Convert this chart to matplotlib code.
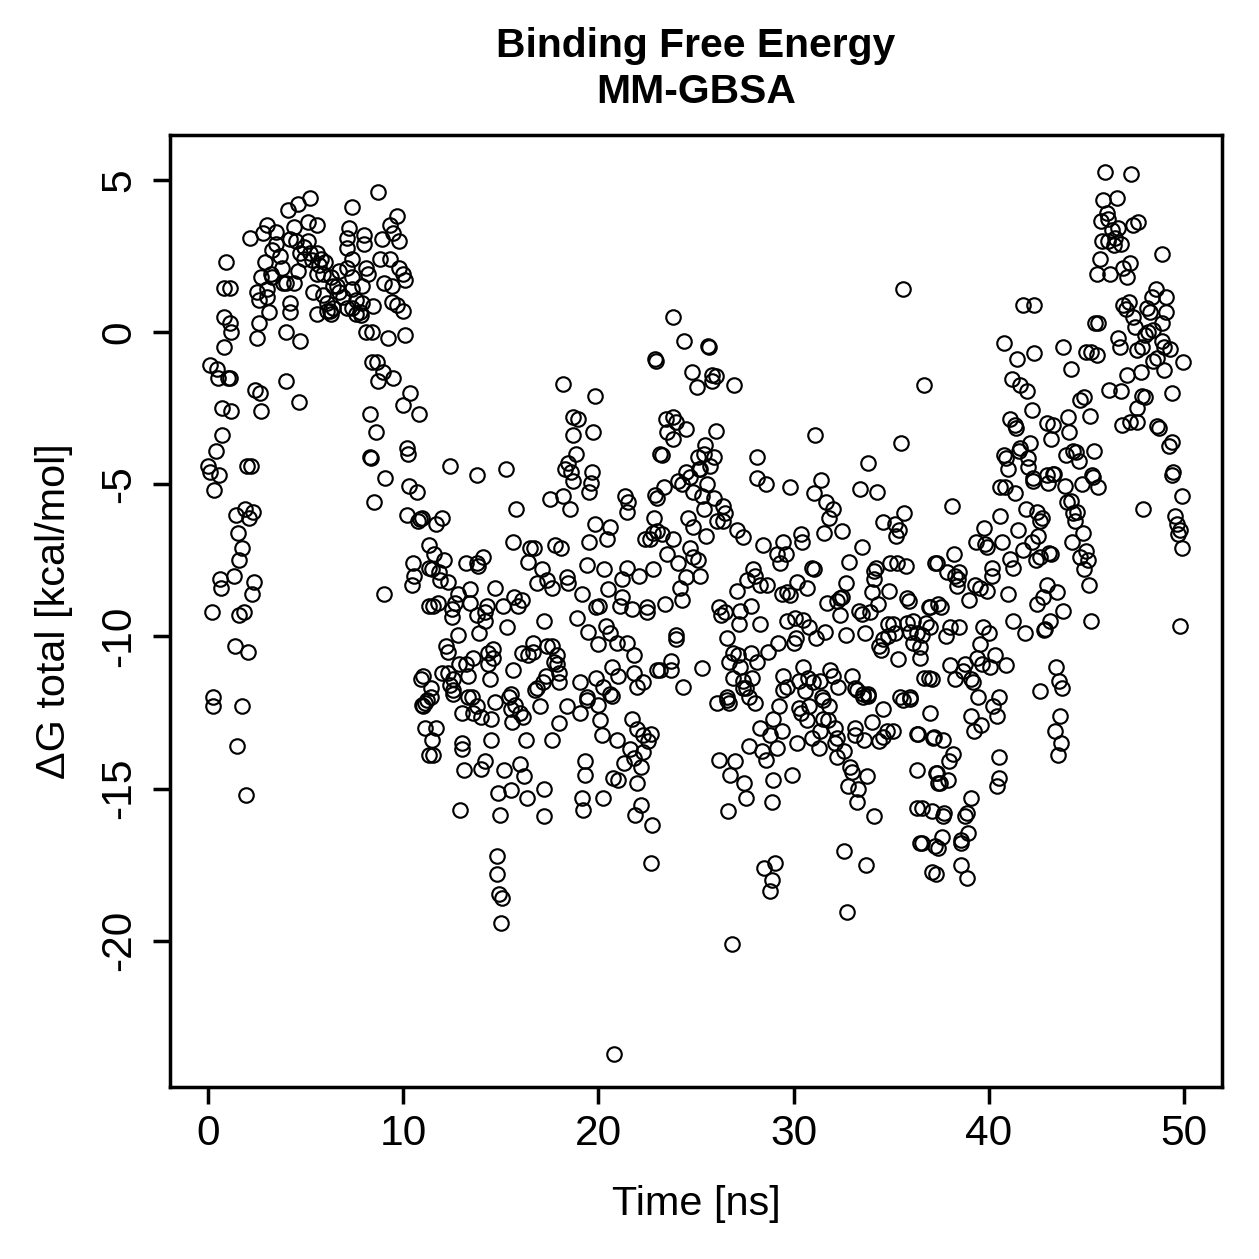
import numpy as np
import matplotlib
matplotlib.use("Agg")
import matplotlib.pyplot as plt

plt.rcParams["font.family"] = ["Liberation Sans", "DejaVu Sans"]

# (time [ns], dG total [kcal/mol]), grouped by time range
frames_0_10 = [
    (8.7,4.6),(5.2,4.4),(4.6,4.2),(4.1,4.0),(7.4,4.1),(9.7,3.8),(3.0,3.5),(5.1,3.6),(5.6,3.5),(4.4,3.45),
    (2.15,3.1),(2.8,3.25),(3.5,3.3),(7.2,3.4),(9.3,3.5),(7.1,3.1),(8.0,3.2),(8.0,2.9),(8.9,3.05),(9.8,3.0),
    (9.5,3.25),(4.2,3.05),(4.5,3.0),(5.1,3.0),(3.5,2.9),(7.1,2.75),(3.3,2.7),(4.9,2.8),(4.7,2.6),(5.2,2.6),
    (5.6,2.6),(7.4,2.4),(3.7,2.5),(0.9,2.3),(2.9,2.3),(4.9,2.4),(5.8,2.4),(8.8,2.4),(9.3,2.4),(7.1,2.1),
    (8.1,2.1),(9.8,2.1),(3.8,2.1),(6.7,2.0),(10.0,1.9),(2.7,1.8),(3.3,1.8),(4.0,1.6),(4.4,1.6),(5.6,1.9),
    (5.9,1.9),(7.4,1.8),(8.2,1.9),(9.0,1.6),(10.1,1.7),(9.4,1.5),(0.8,1.45),(1.1,1.45),(2.5,1.3),(3.0,1.4),
    (3.85,1.6),(6.6,1.5),(7.9,1.5),(6.7,1.3),(7.4,1.4),(2.6,1.05),(3.0,1.15),(5.4,1.3),(5.9,1.2),(6.1,0.95),
    (6.25,0.7),(6.4,0.8),(7.1,0.8),(7.4,0.8),(7.8,0.65),(7.9,0.95),(8.45,0.85),(9.4,1.0),(9.7,0.9),(10.0,0.7),
    (3.1,0.65),(4.2,0.95),(4.2,0.65),(5.6,0.6),(2.6,0.3),(0.8,0.5),(1.1,0.3),(1.2,0.0),(2.5,-0.2),(4.0,0.0),
    (4.7,-0.3),(8.1,0.0),(8.4,0.0),(9.2,-0.2),(10.1,-0.1),(0.8,-0.5),(0.1,-1.1),(0.45,-1.2),(0.5,-1.5),(1.0,-1.5),
    (1.1,-1.5),(8.4,-1.0),(8.65,-1.0),(8.95,-1.3),(9.5,-1.5),(8.7,-1.6),(4.0,-1.6),(2.4,-1.9),(2.65,-2.0),(4.65,-2.3),
    (10.0,-2.4),(10.35,-2.0),(10.8,-2.7),(8.3,-2.7),(2.7,-2.6),(0.7,-2.5),(1.2,-2.6),(8.6,-3.3),(0.7,-3.4),(0.4,-3.9),
    (8.3,-4.1),(10.2,-3.8),(10.25,-4.0),(6.1,0.7),(6.3,0.6),(7.6,0.6),(7.85,0.55),(6.9,1.15),(7.6,1.05),(6.4,1.5),
    (5.7,2.2),(6.0,2.3),(5.35,2.35),(6.3,1.8),(3.2,1.9),(4.6,2.0),
    (0.0,-4.4),(0.1,-4.6),(0.55,-4.7),(0.3,-5.2),(2.0,-4.4),(2.2,-4.4),(1.9,-5.8),(1.45,-6.0),(2.3,-5.9),(2.1,-6.1),
    (1.55,-6.6),(1.75,-7.1),(1.6,-7.5),(0.6,-8.1),(0.65,-8.4),(1.35,-8.0),(2.35,-8.2),(2.25,-8.6),(0.2,-9.2),(1.6,-9.3),
    (1.85,-9.2),(1.4,-10.3),(2.05,-10.5),(0.25,-12.0),(0.25,-12.3),(1.75,-12.3),(1.5,-13.6),(1.95,-15.2),
    (8.35,-4.15),(9.05,-4.8),(8.5,-5.6),(10.3,-5.05),(10.7,-5.25),(10.2,-6.0),(10.85,-6.15),(10.75,-6.2),
    (9.0,-8.6),
]

frames_10_23 = [
    (11.3,-7.0),(10.5,-7.6),(10.55,-8.0),(10.45,-8.3),(11.3,-7.75),(11.3,-9.0),(11.0,-11.3),(11.1,-12.2),
    (11.0,-12.3),(11.1,-13.0),(11.3,-13.9),
    (22.9,-0.9),(18.2,-1.7),(19.8,-2.1),(18.7,-2.8),(18.95,-2.85),(18.7,-3.4),(19.7,-3.3),(18.85,-4.0),(18.45,-4.3),
    (18.3,-4.5),(18.6,-4.6),(18.7,-4.9),(19.65,-4.6),(19.6,-4.95),(19.5,-5.25),(17.5,-5.5),(18.2,-5.4),(18.55,-5.8),
    (21.35,-5.4),(21.5,-5.6),(21.45,-5.9),(22.9,-5.35),(22.85,-6.1),(12.4,-4.4),(13.8,-4.7),(15.25,-4.5),(15.8,-5.8),
    (10.95,-6.1),(11.7,-6.3),(12.0,-6.1),(19.8,-6.3),(20.6,-6.4),(20.45,-6.8),(19.5,-6.9),(22.4,-6.8),(22.65,-6.8),
    (22.8,-6.6),(15.6,-6.9),(16.5,-7.1),(16.7,-7.1),(17.8,-7.0),(18.1,-7.1),(11.6,-7.3),(12.1,-7.5),(13.2,-7.6),
    (13.8,-7.6),(14.1,-7.4),(13.85,-7.7),(16.4,-7.55),(17.1,-7.8),(19.4,-7.65),(20.3,-7.8),(21.45,-7.75),(21.2,-8.1),
    (22.1,-8.0),(22.8,-7.8),(11.45,-7.8),(11.85,-7.9),(11.9,-8.15),(12.3,-8.2),(14.7,-8.4),(16.85,-8.25),(17.35,-8.15),
    (17.6,-8.4),(18.4,-8.05),(18.45,-8.25),(19.15,-8.6),(20.5,-8.45),(21.2,-8.7),(21.1,-9.0),(21.7,-9.1),(22.5,-9.05),
    (22.5,-9.2),(12.8,-8.6),(13.4,-8.45),(11.5,-9.0),(11.8,-8.9),(12.5,-9.1),(12.5,-9.35),(12.65,-8.9),(13.4,-8.9),
    (14.3,-9.0),(14.2,-9.2),(13.8,-9.3),(14.2,-9.5),(15.1,-9.0),(15.7,-8.7),(16.1,-8.8),(15.9,-9.0),(15.3,-9.7),
    (17.2,-9.5),(18.9,-9.4),(19.45,-9.85),(19.9,-9.05),(20.05,-9.0),(20.4,-9.65),(20.6,-9.9),(20.0,-10.25),(20.95,-10.2),
    (21.45,-10.2),(21.8,-10.6),(23.0,-11.1),(12.8,-9.95),(13.9,-9.9),(12.2,-10.3),(12.3,-10.5),(13.6,-10.7),(14.35,-10.55),
    (14.6,-10.4),(14.6,-10.7),(14.35,-10.9),(12.85,-10.9),(13.2,-10.9),(12.0,-11.2),(12.3,-11.2),(12.55,-11.4),(13.3,-11.3),
    (10.9,-11.4),(11.4,-11.7),(12.55,-11.75),(14.45,-11.4),(15.6,-11.1),(16.1,-10.55),(16.4,-10.6),(16.65,-10.5),
    (16.65,-10.2),(17.35,-10.3),(17.6,-10.3),(17.9,-10.6),(17.7,-10.85),(17.9,-10.9),(18.0,-11.2),(18.0,-11.5),(17.3,-11.3),
    (19.05,-11.5),(19.9,-11.35),(20.25,-11.65),(20.7,-11.0),(21.0,-11.3),(21.8,-11.2),(22.3,-11.5),(22.0,-11.65),(11.4,-12.0),
    (16.75,-11.75),(16.85,-11.7),(17.15,-11.5),(15.5,-11.9),(13.3,-12.0),(19.4,-12.0),(20.6,-11.9),
    (10.95,-12.25),(11.2,-12.1),(12.55,-11.9),(12.4,-11.6),(13.5,-12.0),(13.8,-12.3),(13.0,-12.5),(13.6,-12.5),(14.0,-12.65),
    (14.5,-12.7),(14.7,-12.15),(15.4,-12.0),(15.5,-12.4),(15.75,-12.25),(16.0,-12.5),(16.15,-12.65),(15.55,-12.8),(17.0,-12.3),
    (18.0,-12.85),(18.4,-12.3),(19.05,-12.5),(19.4,-12.1),(20.0,-12.25),(20.1,-12.75),(20.7,-11.95),(21.7,-12.7),(22.0,-13.05),
    (22.3,-13.25),(22.7,-13.2),(22.55,-13.45),(21.6,-13.7),(21.8,-14.0),(22.3,-13.8),(21.3,-14.15),(22.2,-14.3),(22.0,-14.8),
    (22.2,-15.55),(21.9,-15.85),(22.75,-16.2),(22.7,-17.45),(20.75,-14.65),(21.0,-14.7),(20.2,-13.25),(20.95,-13.4),
    (20.25,-15.3),(19.3,-14.1),(19.3,-14.55),(19.15,-15.3),(19.2,-15.7),(11.7,-13.0),(11.45,-13.4),(11.5,-13.9),(13.0,-13.5),
    (13.0,-13.7),(14.5,-13.4),(16.3,-13.4),(17.6,-13.4),(13.1,-14.4),(14.0,-14.35),(14.2,-14.1),(15.15,-14.4),(16.0,-14.2),
    (16.2,-14.6),(14.85,-15.15),(15.5,-15.05),(16.35,-15.3),(17.2,-15.0),(12.9,-15.7),(14.95,-15.85),(17.2,-15.9),
    (14.8,-17.2),(14.8,-17.8),(14.9,-18.45),(15.05,-18.6),(15.0,-19.4),(20.8,-23.7),
]

frames_23_37 = [
    (23.8,0.5),(24.4,-0.3),(25.6,-0.45),(25.65,-0.5),(22.95,-0.95),(24.8,-1.3),(25.8,-1.4),(26.05,-1.45),(25.8,-1.6),
    (25.05,-1.8),(26.95,-1.75),(36.7,-1.75),(23.45,-2.85),(23.8,-2.8),(24.0,-2.95),(24.5,-3.2),(23.5,-3.3),(23.8,-3.5),
    (26.0,-3.25),(31.1,-3.4),(35.5,-3.65),(25.45,-3.7),(23.15,-4.0),(23.25,-4.05),(25.1,-4.1),(25.4,-4.0),(25.9,-4.1),
    (25.7,-4.4),(25.2,-4.5),(28.1,-4.1),(33.8,-4.3),(24.5,-4.6),(24.7,-4.75),(25.15,-4.5),(24.1,-4.9),(24.3,-5.0),
    (25.55,-5.0),(24.85,-5.25),(23.35,-5.1),(23.0,-5.45),(28.1,-4.8),(28.6,-5.0),(29.8,-5.1),(31.4,-4.85),(31.05,-5.3),
    (33.4,-5.15),(34.25,-5.25),(25.3,-5.4),(25.9,-5.45),(26.4,-5.7),(26.5,-5.95),(25.4,-5.8),(24.6,-6.1),(24.85,-6.4),
    (26.1,-6.2),(26.4,-6.2),(27.1,-6.5),(27.4,-6.75),(25.5,-6.7),(31.65,-5.6),(32.0,-5.8),(31.8,-6.1),(31.55,-6.6),
    (32.5,-6.55),(35.65,-5.95),(34.6,-6.25),(35.2,-6.3),(35.4,-6.5),(35.25,-6.7),(23.0,-6.55),(23.25,-6.65),(23.8,-6.8),
    (28.45,-7.0),(29.45,-6.9),(30.4,-6.65),(30.45,-6.9),(33.5,-7.05),(29.15,-7.3),(29.6,-7.3),(29.3,-7.6),(32.85,-7.55),
    (23.5,-7.3),(24.7,-7.1),(24.85,-7.4),(25.1,-7.5),(24.1,-7.6),(25.2,-8.0),(24.5,-8.05),(24.2,-8.4),(24.3,-8.8),
    (34.1,-7.85),(34.2,-7.75),(34.95,-7.6),(35.3,-7.6),(35.75,-7.7),(37.25,-7.6),(27.9,-7.8),(28.0,-8.0),(27.6,-8.15),
    (28.3,-8.3),(28.65,-8.3),(27.1,-8.5),(30.2,-8.2),(30.7,-8.4),(30.95,-7.75),(31.05,-7.8),(29.4,-8.6),(29.65,-8.55),
    (29.8,-8.65),(32.7,-8.25),(32.4,-8.75),(32.5,-8.7),(34.1,-8.1),(34.0,-8.55),(34.9,-8.5),(35.8,-8.75),(35.9,-8.85),
    (31.7,-8.9),(32.2,-8.85),(32.4,-9.3),(33.35,-9.15),(33.5,-9.25),(34.3,-8.95),(33.9,-9.2),(37.0,-9.05),(37.4,-8.95),
    (23.4,-8.95),(26.2,-9.05),(26.5,-9.2),(26.3,-9.3),(27.25,-9.15),(27.8,-9.0),(24.0,-9.95),(24.0,-10.1),(26.6,-10.05),
    (27.2,-9.6),(28.3,-9.6),(29.65,-9.5),(30.05,-9.4),(30.5,-9.45),(30.8,-9.7),(31.15,-10.05),(31.6,-9.85),(32.7,-9.95),
    (33.65,-9.9),(29.2,-10.2),(30.0,-10.2),(30.1,-10.05),(28.7,-10.5),(34.85,-9.6),(35.1,-9.6),(34.85,-10.0),(34.6,-10.1),
    (34.4,-10.3),(34.5,-10.45),(35.2,-9.9),(35.8,-9.55),(36.1,-9.5),(35.95,-9.85),(36.3,-9.9),(36.6,-9.95),(36.8,-9.55),
    (37.0,-9.7),(36.1,-10.2),(36.5,-10.35),(36.5,-10.7),(35.35,-10.75),(36.7,-11.35),(36.95,-11.35),(37.1,-11.4),
    (23.15,-11.1),(23.7,-10.8),(23.7,-11.1),(24.35,-11.65),(25.3,-11.05),(26.9,-10.55),(27.15,-10.6),(27.8,-10.55),
    (28.1,-10.85),(26.7,-10.85),(27.25,-11.0),(26.9,-11.35),(27.4,-11.45),(27.85,-11.35),(27.4,-11.7),(26.6,-12.0),
    (29.45,-11.3),(30.5,-11.0),(30.3,-11.45),(30.75,-11.35),(31.0,-11.5),(31.35,-11.45),(31.85,-11.1),(32.0,-11.3),
    (32.3,-11.65),(33.0,-11.3),(33.15,-11.7),(33.55,-11.9),(33.8,-11.9),(29.65,-11.65),(30.6,-11.8),(31.45,-12.0),
    (35.45,-12.0),(35.95,-12.0),
    (26.1,-12.2),(26.6,-12.1),(26.7,-12.2),(27.55,-11.7),(27.7,-12.0),(28.0,-12.2),(29.45,-11.75),(29.25,-12.3),(28.95,-12.7),
    (28.3,-13.0),(28.8,-13.25),(29.4,-13.1),(29.15,-13.65),(28.4,-13.75),(28.6,-14.05),(27.7,-13.6),(26.2,-14.05),(27.0,-14.1),
    (26.75,-14.55),(27.45,-14.8),(27.55,-15.3),(26.65,-15.75),(28.95,-14.7),(28.9,-15.45),(29.9,-14.55),(30.2,-13.5),
    (30.3,-12.35),(30.4,-12.5),(30.8,-12.3),(30.7,-12.75),(30.95,-13.35),(31.3,-13.65),(31.35,-13.1),(31.5,-12.1),(31.8,-12.3),
    (31.5,-12.7),(31.75,-12.75),(32.1,-13.0),(32.2,-13.35),(32.1,-13.5),(32.6,-13.75),(32.2,-13.95),(32.9,-14.3),(33.0,-14.45),
    (32.8,-14.9),(33.3,-15.0),(33.75,-14.6),(33.25,-15.45),(34.1,-15.9),(33.15,-13.0),(33.15,-13.25),(33.6,-13.4),(34.0,-12.8),
    (34.4,-13.45),(34.6,-13.3),(34.8,-13.1),(35.1,-13.1),(34.6,-12.4),(33.25,-11.75),(33.55,-12.0),(33.8,-11.95),(35.6,-12.1),
    (35.95,-12.05),(37.0,-12.5),(36.3,-13.2),(37.15,-13.35),(36.3,-14.4),(37.3,-14.5),(37.4,-14.8),(36.3,-15.65),(36.6,-15.65),
    (37.1,-15.75),(36.5,-16.8),(36.6,-16.8),(37.25,-16.9),(37.1,-17.75),(32.6,-17.05),(33.7,-17.5),(28.5,-17.6),(29.05,-17.45),
    (28.9,-18.0),(28.8,-18.35),(32.75,-19.05),(26.85,-20.1),(35.6,1.4),
]

frames_37_50 = [
    (45.95,5.25),(47.3,5.2),(45.85,4.35),(46.55,4.4),(46.05,3.9),(45.75,3.65),(46.1,3.7),(47.4,3.5),(47.65,3.6),(46.3,3.35),
    (46.6,3.4),(45.8,3.0),(46.1,3.0),(46.45,3.1),(46.8,2.9),(46.4,2.85),(48.9,2.55),(45.7,2.4),(47.25,2.25),(46.9,2.1),
    (47.1,1.8),(45.55,1.9),(46.2,1.9),(41.75,0.9),(42.3,0.9),(48.55,1.4),(49.1,1.15),(48.35,1.15),(47.2,1.0),(46.9,0.9),
    (48.1,0.8),(48.25,0.65),(49.1,0.65),(47.05,0.75),(47.4,0.5),(47.5,0.15),(48.9,0.3),(45.45,0.3),(45.6,0.3),(48.15,0.0),
    (48.4,0.05),(48.0,-0.1),(48.9,-0.3),(49.0,-0.5),(49.3,-0.55),(49.95,-1.0),(46.6,-0.2),(46.7,-0.5),(47.6,-0.6),(47.85,-0.5),
    (48.4,-0.95),(48.6,-0.85),(49.0,-1.25),(45.0,-0.65),(45.25,-0.65),(45.55,-0.75),(43.8,-0.5),(44.2,-1.2),(40.8,-0.35),
    (41.45,-0.9),(42.3,-0.7),(47.1,-1.4),(47.8,-1.3),(49.4,-2.0),(46.15,-1.9),(46.8,-1.95),(47.85,-2.1),(48.0,-2.15),
    (47.6,-2.5),(41.2,-1.55),(41.6,-1.75),(41.95,-1.95),(42.2,-2.55),(41.1,-2.85),(41.35,-3.05),(41.4,-3.15),(43.0,-3.0),
    (43.3,-3.05),(43.2,-3.5),(44.05,-2.8),(44.7,-2.25),(44.9,-2.15),(45.2,-2.75),(44.1,-3.3),(46.85,-3.05),(47.25,-2.95),
    (47.6,-2.95),(48.6,-3.1),(48.7,-3.15),(49.4,-3.6),(49.25,-3.75),(49.45,-4.6),(49.4,-4.7),(42.1,-3.65),(41.6,-3.8),
    (41.55,-3.9),(40.8,-4.05),(40.9,-4.15),(42.0,-4.15),(42.0,-4.45),(44.3,-3.9),(44.45,-3.95),(44.6,-4.25),(43.95,-4.05),
    (45.4,-3.9),(43.0,-4.7),(43.3,-4.65),(45.3,-4.7),(42.25,-4.8),
    (41.0,-4.5),(42.25,-4.9),(40.6,-5.1),(40.85,-5.1),(41.35,-5.3),(43.05,-4.95),(43.35,-4.65),(43.9,-5.05),(44.8,-5.0),
    (45.35,-4.75),(45.6,-5.1),(49.9,-5.4),(47.9,-5.8),(49.55,-6.05),(49.65,-6.3),(49.8,-6.5),(49.7,-6.65),(49.9,-7.1),
    (49.8,-9.65),(38.1,-5.7),(41.9,-5.8),(42.45,-5.9),(42.6,-6.2),(42.75,-6.1),(40.6,-6.05),(41.5,-6.5),(39.75,-6.45),
    (39.35,-6.9),(39.8,-6.95),(39.9,-7.05),(40.7,-6.9),(42.5,-6.7),(42.2,-6.9),(41.75,-7.15),(42.4,-7.5),(42.6,-7.4),
    (43.1,-7.25),(43.2,-7.3),(44.0,-5.6),(44.2,-5.55),(44.3,-5.95),(44.4,-6.2),(44.5,-5.9),(44.85,-6.6),(44.25,-6.9),
    (44.65,-7.4),(45.0,-7.2),(45.1,-7.5),(44.9,-7.8),(45.15,-8.3),(45.25,-9.5),(38.2,-7.3),(37.35,-7.6),(37.85,-7.9),
    (38.25,-8.0),(38.45,-7.9),(38.4,-8.1),(38.35,-8.35),(39.3,-8.3),(39.55,-8.4),(39.9,-8.5),(40.15,-7.75),(40.15,-8.0),
    (41.1,-7.45),(41.25,-7.75),(39.0,-8.8),(41.0,-8.6),(43.0,-8.3),(42.8,-8.7),(42.45,-8.95),(43.5,-8.55),(43.8,-9.15),
    (41.25,-9.5),(41.85,-9.9),(42.9,-9.75),(43.15,-9.5),(42.85,-9.8),(39.7,-9.7),(40.0,-9.9),(38.0,-9.7),(38.5,-9.7),
    (37.8,-10.0),(36.95,-9.05),(37.55,-9.05),(39.55,-10.25),(39.4,-10.7),(39.65,-10.9),(40.3,-10.6),(40.05,-11.0),
    (40.9,-10.95),(38.0,-10.95),(38.8,-10.9),(38.25,-11.4),(38.7,-11.15),(39.1,-11.4),(39.2,-11.5),(39.45,-12.0),(40.5,-12.0),
    (40.2,-12.3),(40.4,-12.6),(39.1,-12.6),(39.6,-12.9),(39.25,-13.1),(43.45,-11.0),(43.6,-11.45),(43.75,-11.7),(42.6,-11.8),
    (43.65,-12.6),(43.4,-13.1),(43.7,-13.5),(43.55,-13.9),(36.35,-13.2),(37.2,-13.3),(37.65,-13.4),(38.15,-13.85),
    (37.95,-14.1),(37.35,-14.5),(37.5,-14.8),(37.9,-14.7),(40.5,-13.95),(40.5,-14.65),(40.4,-14.9),(39.1,-15.3),(37.7,-15.8),
    (37.65,-15.9),(38.8,-15.9),(38.9,-15.8),(37.6,-16.6),(37.4,-16.95),(38.6,-16.7),(38.95,-16.45),(38.6,-16.8),(38.6,-17.5),
    (37.3,-17.8),(38.9,-17.95),
]

x_ticks = [0, 10, 20, 30, 40, 50]
y_ticks = [-20, -15, -10, -5, 0, 5]

data = np.array(frames_0_10 + frames_10_23 + frames_23_37 + frames_37_50)
order = np.argsort(data[:, 0])
t = data[order, 0]
dg = data[order, 1]

W = 1259
fig = plt.figure(figsize=(7, 7), dpi=W / 7)
ax = fig.add_axes([170 / W, 172 / W, 1052 / W, 952 / W])

# open circles like R's pch=1
ax.plot(t, dg, "o", mfc="none", mec="black", ms=5.8, mew=0.85, linestyle="none")

ax.set_xlim(-1.95, 51.95)
ax.set_ylim(-24.8, 6.47)
ax.set_xticks(x_ticks)
ax.set_yticks(y_ticks)
ax.set_xticklabels([str(v) for v in x_ticks])
ax.set_yticklabels([str(v) for v in y_ticks], rotation=90, va="center")

for s in ax.spines.values():
    s.set_linewidth(1.4)
ax.tick_params(direction="out", length=6.8, width=1.4, labelsize=17, colors="black")
ax.tick_params(axis="x", pad=4.2)
ax.tick_params(axis="y", pad=5.6)

fig.text(696 / W, 1 - 57 / W, "Binding Free Energy", ha="center", va="baseline",
         fontsize=16.4, fontweight="bold")
fig.text(696 / W, 1 - 103 / W, "MM-GBSA", ha="center", va="baseline",
         fontsize=16.4, fontweight="bold")
fig.text(696 / W, 1 - 1215 / W, "Time [ns]", ha="center", va="baseline", fontsize=16.6)
fig.text(54 / W, 1 - 611 / W, "ΔG total [kcal/mol]", ha="center", va="center",
         rotation=90, fontsize=16.6)

fig.savefig("out.png", dpi=W / 7)
